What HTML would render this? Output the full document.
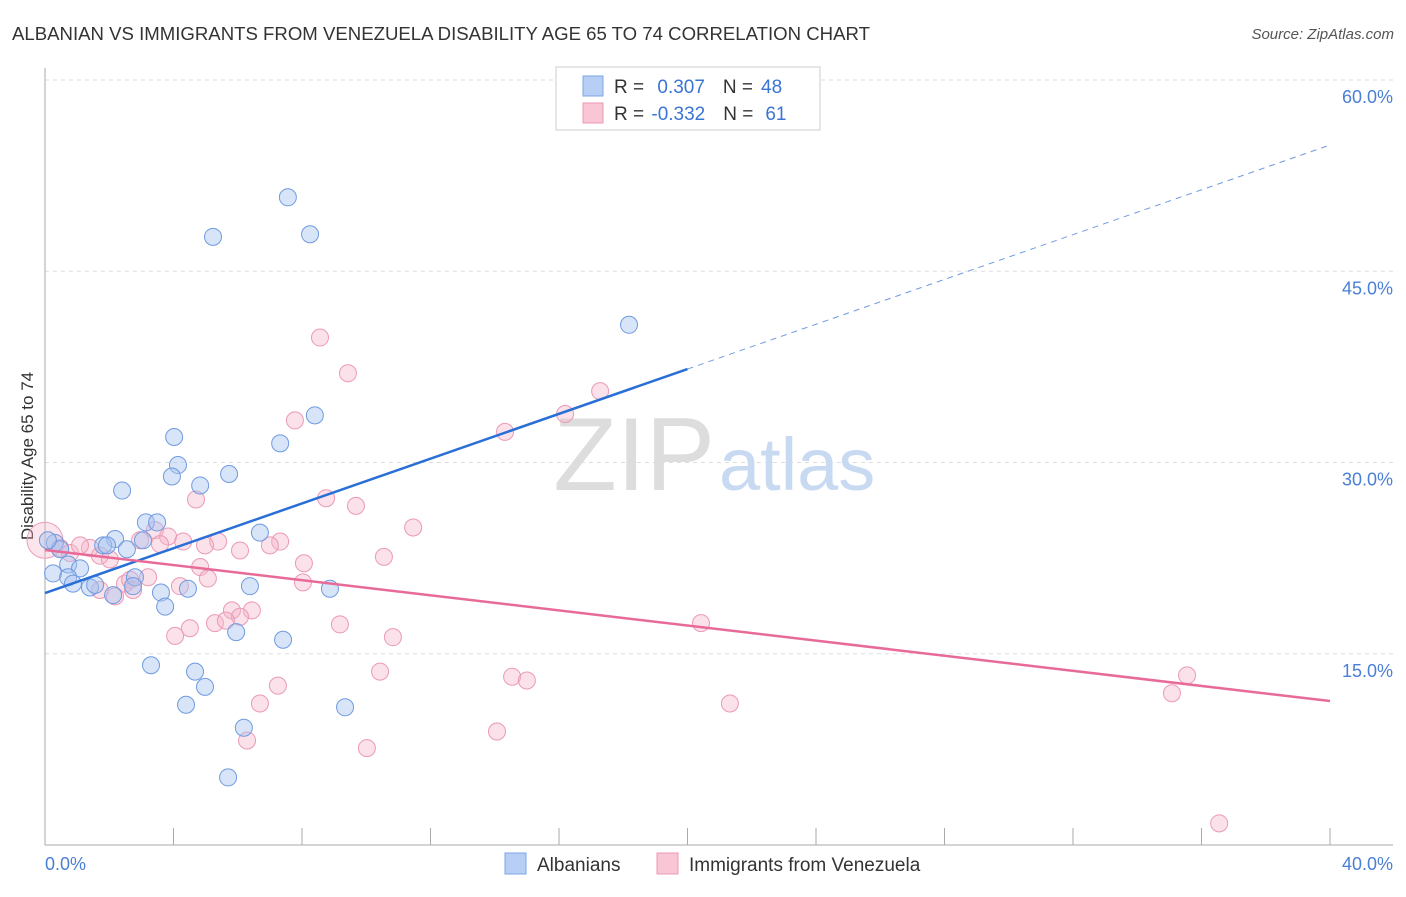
<!DOCTYPE html>
<html><head><meta charset="utf-8"><style>
body{margin:0;background:#fff;font-family:"Liberation Sans",sans-serif}
svg text{font-family:"Liberation Sans",sans-serif}
</style></head><body>
<svg id="chart" width="1406" height="892">
<text x="12" y="40" font-size="18.6" fill="#333">ALBANIAN VS IMMIGRANTS FROM VENEZUELA DISABILITY AGE 65 TO 74 CORRELATION CHART</text>
<text x="1394" y="39" font-size="15" fill="#555" font-style="italic" text-anchor="end">Source: ZipAtlas.com</text>
<g id="grid"></g>
<text x="715" y="490" font-size="104" fill="#ddd" text-anchor="end" font-family="Liberation Serif">ZIP</text>
<text x="719" y="490" font-size="74" fill="#c8daf2">atlas</text>
<text transform="translate(33,456) rotate(-90)" font-size="17" fill="#333" text-anchor="middle">Disability Age 65 to 74</text>
<g id="points"></g>
<g id="lines"></g>
<g>
<rect x="556" y="67" width="264" height="63" fill="#fff" stroke="#ccc"/>
<rect x="583" y="76" width="20" height="20" fill="#b7cff4" stroke="#7ea6e6"/>
<rect x="583" y="103" width="20" height="20" fill="#f9c6d6" stroke="#ec98b3"/>
<text x="614" y="93" font-size="19" fill="#333">R = <tspan fill="#3a74d4" dx="8">0.307</tspan><tspan dx="18">N =</tspan><tspan fill="#3a74d4" dx="8">48</tspan></text>
<text x="614" y="120" font-size="19" fill="#333">R = <tspan fill="#3a74d4" dx="2">-0.332</tspan><tspan dx="18">N =</tspan><tspan fill="#3a74d4" dx="12">61</tspan></text>
</g>
<g>
<rect x="505" y="853" width="21" height="21" fill="#b7cff4" stroke="#7ea6e6"/>
<text x="537" y="871" font-size="19" fill="#333">Albanians</text>
<rect x="657" y="853" width="21" height="21" fill="#f9c6d6" stroke="#ec98b3"/>
<text x="689" y="871" font-size="19" fill="#333">Immigrants from Venezuela</text>
</g>
</svg>
<script>
const xTicks=[0,4,8,12,16,20,24,28,32,36,40];
const yTicks=[15,30,45,60];
const yTickLabels=["15.0%","30.0%","45.0%","60.0%"];
const xEndLabels=["0.0%","40.0%"];
const blueX=[7.56,5.23,8.25,18.18,8.40,4.02,7.32,4.14,2.40,3.95,4.83,5.73,3.14,3.49,6.69,3.05,2.18,1.81,2.55,0.31,0.47,0.72,1.09,0.25,0.72,0.87,1.40,1.56,2.12,2.80,2.74,3.61,3.74,4.45,6.38,8.87,5.95,7.41,3.30,4.67,4.98,4.39,9.34,6.19,5.70,0.09,1.93];
const blueY=[50.8,47.7,47.9,40.8,33.7,32.0,31.5,29.8,27.8,28.9,28.2,29.1,25.3,25.3,24.5,23.9,24.0,23.5,23.2,23.7,23.2,22.0,21.7,21.3,21.0,20.5,20.2,20.4,19.6,21.0,20.3,19.8,18.7,20.1,20.3,20.1,16.7,16.1,14.1,13.6,12.4,11.0,10.8,9.2,5.3,23.9,23.5];
const pinkX=[8.56,9.43,17.28,16.19,14.32,7.78,8.75,9.68,11.46,4.70,3.42,3.83,4.30,5.39,7.32,10.55,8.06,0.47,1.40,1.71,2.02,2.96,3.58,4.83,5.07,3.21,2.49,2.65,2.74,2.18,4.20,8.03,5.82,6.44,6.07,5.29,5.63,4.51,4.05,9.18,10.83,20.42,10.43,14.54,15.00,7.25,6.69,21.32,35.08,35.55,6.29,10.02,14.07,36.55,0.78,1.09,1.71,4.98,7.00,6.07];
const pinkY=[39.8,37.0,35.6,33.8,32.4,33.3,27.2,26.6,24.9,27.1,24.7,24.2,23.8,23.8,23.8,22.6,22.1,23.3,23.3,22.7,22.4,23.9,23.6,21.8,20.9,21.0,20.5,20.8,20.0,19.5,20.3,20.6,18.4,18.4,17.9,17.4,17.6,17.0,16.4,17.3,16.3,17.4,13.6,13.2,12.9,12.5,11.1,11.1,11.9,13.3,8.2,7.6,8.9,1.7,22.9,23.5,20.0,23.5,23.5,23.1];
const blueTrend=[19.76,37.33,54.9];
const pinkTrend=[23.14,11.29];
const NS="http://www.w3.org/2000/svg";
const sx=v=>45+v*(1285/40);
const sy=v=>845-v*(765/60);
function mk(t,a,p){const e=document.createElementNS(NS,t);for(const k in a)e.setAttribute(k,a[k]);p.appendChild(e);return e;}
const grid=document.getElementById('grid');
yTicks.forEach((t,i)=>{
 const g=mk('line',{x1:45,x2:1393,y1:sy(t),y2:sy(t),stroke:'#ddd','stroke-dasharray':'4,4'},grid);
 
 
 const l=mk('text',{x:1393,y:sy(t)+23,'font-size':18,fill:'#4a7fd6','text-anchor':'end'},grid);
 l.textContent=yTickLabels[i];
 
 
});
const ax=mk('line',{x1:45,x2:1393,y1:845,y2:845,stroke:'#aaa'},grid);


const ay=mk('line',{x1:45,x2:45,y1:68,y2:845,stroke:'#aaa'},grid);


xTicks.forEach(t=>{
 const k=mk('line',{x1:sx(t),x2:sx(t),y1:828,y2:845,stroke:'#aaa'},grid);
 
 
});
[[0,'start',45],[40,'end',1393]].forEach((d,i)=>{
 const l=mk('text',{x:d[2],y:870,'font-size':18,fill:'#4a7fd6','text-anchor':d[1]},grid);
 l.textContent=xEndLabels[i];
 
 
});
const pts=document.getElementById('points');
const big=mk('circle',{cx:sx(0),cy:sy(23.9),r:18,fill:'rgba(245,180,200,0.35)',stroke:'#eaa0b8'},pts);


pinkX.forEach((x,i)=>{
 const c=mk('circle',{cx:sx(x),cy:sy(pinkY[i]),r:8.5,fill:'rgba(245,180,200,0.4)',stroke:'#eb9ab5','stroke-width':1},pts);
 
 
});
blueX.forEach((x,i)=>{
 const c=mk('circle',{cx:sx(x),cy:sy(blueY[i]),r:8.5,fill:'rgba(168,196,240,0.45)',stroke:'#6f9be0','stroke-width':1},pts);
 
 
});
const ln=document.getElementById('lines');
const b1=mk('line',{x1:sx(0),y1:sy(blueTrend[0]),x2:sx(20),y2:sy(blueTrend[1]),stroke:'#2a6fd6','stroke-width':2.5},ln);


const b2=mk('line',{x1:sx(20),y1:sy(blueTrend[1]),x2:sx(40),y2:sy(blueTrend[2]),stroke:'#6f9be0','stroke-width':1,'stroke-dasharray':'6,5'},ln);


const p1=mk('line',{x1:sx(0),y1:sy(pinkTrend[0]),x2:sx(40),y2:sy(pinkTrend[1]),stroke:'#e86a98','stroke-width':2.5},ln);


</script>
</body></html>
